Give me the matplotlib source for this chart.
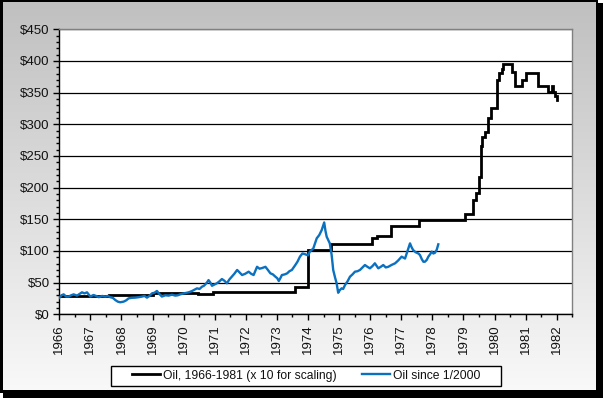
import matplotlib
matplotlib.use("Agg")
import matplotlib.pyplot as plt
import numpy as np
from matplotlib.patches import Rectangle
from matplotlib.ticker import MultipleLocator, FuncFormatter

plt.rcParams['font.family'] = ['Liberation Sans', 'DejaVu Sans']

# ---- data ----
black_years = [1966.0, 1967.6, 1969.0, 1970.47, 1970.95, 1973.58, 1973.99, 1974.74,
               1976.07, 1976.23, 1976.66, 1977.58, 1979.05, 1979.32, 1979.40, 1979.50,
               1979.56, 1979.61, 1979.69, 1979.80, 1979.89, 1980.07, 1980.15, 1980.23,
               1980.28, 1980.55, 1980.66, 1980.87, 1981.01, 1981.41, 1981.73, 1981.84,
               1981.89, 1981.94, 1982.02]
black_values = [29.4, 31.0, 33.6, 32.0, 35.7, 43.6, 101.0, 111.0,
                121.0, 123.6, 139.0, 149.0, 158.4, 180.5, 192.0, 217.0,
                265.0, 280.0, 288.0, 309.5, 325.0, 370.0, 380.5, 388.0,
                395.0, 383.0, 361.0, 370.0, 381.5, 361.0, 350.5, 361.0,
                351.0, 345.0, 339.0]

blue_years = [1966.00, 1966.07, 1966.14, 1966.22, 1966.30, 1966.38, 1966.46, 1966.57,
              1966.65, 1966.73, 1966.81, 1966.89, 1966.95, 1967.00, 1967.10, 1967.18,
              1967.27, 1967.38, 1967.48, 1967.56, 1967.64, 1967.72, 1967.80, 1967.88,
              1967.96, 1968.07, 1968.15, 1968.23, 1968.33, 1968.44, 1968.55, 1968.66,
              1968.74, 1968.82, 1968.90, 1968.98, 1969.06, 1969.14, 1969.22, 1969.30,
              1969.41, 1969.52, 1969.62, 1969.73, 1969.81, 1969.89, 1970.00, 1970.10,
              1970.18, 1970.27, 1970.35, 1970.43, 1970.51, 1970.59, 1970.65, 1970.70,
              1970.76, 1970.80, 1970.86, 1970.91, 1970.99, 1971.07, 1971.15, 1971.23,
              1971.31, 1971.39, 1971.47, 1971.55, 1971.63, 1971.72, 1971.80, 1971.88,
              1971.98, 1972.09, 1972.17, 1972.25, 1972.30, 1972.36, 1972.44, 1972.52,
              1972.58, 1972.63, 1972.71, 1972.79, 1972.87, 1972.95, 1973.01, 1973.06,
              1973.11, 1973.16, 1973.25, 1973.33, 1973.40, 1973.48, 1973.58, 1973.66,
              1973.74, 1973.82, 1973.90, 1974.00, 1974.06, 1974.17, 1974.28, 1974.36,
              1974.44, 1974.52, 1974.56, 1974.60, 1974.70, 1974.76, 1974.81, 1974.87,
              1974.92, 1974.97, 1975.02, 1975.08, 1975.13, 1975.19, 1975.27, 1975.35,
              1975.43, 1975.51, 1975.59, 1975.67, 1975.75, 1975.83, 1975.91, 1975.99,
              1976.07, 1976.15, 1976.26, 1976.34, 1976.42, 1976.50, 1976.58, 1976.69,
              1976.80, 1976.90, 1977.01, 1977.12, 1977.20, 1977.28, 1977.33, 1977.38,
              1977.46, 1977.55, 1977.60, 1977.66, 1977.71, 1977.76, 1977.82, 1977.87,
              1977.93, 1977.98, 1978.03, 1978.08, 1978.14, 1978.19]
blue_values = [26, 30, 31.5, 28, 28, 30, 31.5, 29.5,
               32, 34.7, 33, 34.7, 31, 28, 30.5, 29,
               27, 29, 28, 29, 27, 26, 22.6, 20,
               19, 20, 22, 25.2, 26, 26.3, 27, 28,
               29, 26.3, 29, 33, 34, 36.8, 32, 28,
               30, 29.5, 31, 29.5, 30, 31.5, 33, 34,
               35, 36.8, 39, 41, 40, 43.6, 45, 47.4,
               51, 54, 50, 45, 47, 49, 52, 55.7,
               53, 49, 55, 59.4, 64, 70, 66, 62,
               64, 67.3, 64, 62, 68, 75, 72, 73,
               74, 75, 70, 64.7, 63, 59.4, 57, 52.6,
               57, 62, 63, 64.7, 68, 70, 77, 83,
               91, 96, 95, 93, 99, 104, 120, 125,
               133, 145, 132, 122.5, 112, 93.6, 70, 58,
               49, 34, 38, 41, 40, 46.3, 52, 59.4,
               63, 67.3, 68, 70, 74, 77.8, 75, 72.6,
               76, 80.5, 72.6, 75, 77.8, 74, 75, 78,
               80.5, 85, 91, 88, 100, 112, 106, 101.5,
               98, 96, 93.6, 87, 83, 83, 86, 91,
               95, 99, 96, 97, 102, 110.5]

year_ticks = list(range(1966, 1983))
black_label = "Oil, 1966-1981 (x 10 for scaling)"
blue_label = "Oil since 1/2000"

W, H = 603, 398
fig = plt.figure(figsize=(W / 100, H / 100), dpi=100, facecolor='white')

# ---- background panel ----
bg = fig.add_axes([0, 0, 1, 1], zorder=-10)
bg.axis('off')
bg.add_patch(Rectangle((3, 3), 600, 395, facecolor='black', edgecolor='none', zorder=1))
bg.add_patch(Rectangle((0, 0), 598, 393, facecolor='black', edgecolor='none', zorder=1))
grad = np.linspace(0.753, 0.975, 256).reshape(-1, 1)
bg.imshow(np.dstack([grad, grad, grad]), extent=(3, 595.5, 390.5, 3), aspect='auto',
          interpolation='bilinear', zorder=2)
bg.add_patch(Rectangle((110.7, 365.7), 390.6, 20, facecolor='white', edgecolor='black',
                       linewidth=1.0, zorder=3))
bg.set_xlim(0, W)
bg.set_ylim(H, 0)

# ---- main axes ----
left = 59.3 / W
bottom = 1 - 314.3 / H
ax = fig.add_axes([left, bottom, 513 / W, 285 / H])
ax.set_facecolor('white')

ax.plot(black_years, black_values, color='black', lw=2.0, drawstyle='steps-post',
        label=black_label, zorder=3, solid_joinstyle='miter')
ax.plot(blue_years, blue_values, color='#0a70c0', lw=1.7, label=blue_label, zorder=4)

ax.set_xlim(1966, 1982.5)
ax.set_ylim(0, 450)

ax.yaxis.set_major_locator(MultipleLocator(50))
ax.yaxis.set_minor_locator(MultipleLocator(10))
ax.yaxis.set_major_formatter(FuncFormatter(lambda v, p: f"${int(v)}"))
ax.set_xticks(year_ticks)
ax.set_xticklabels([str(y) for y in year_ticks], rotation=90)
ax.xaxis.set_minor_locator(MultipleLocator(0.5))

ax.grid(axis='y', which='major', color='black', lw=0.9)
ax.set_axisbelow(True)

for s in ['top', 'right']:
    ax.spines[s].set_color('#808080')
    ax.spines[s].set_linewidth(1.0)
for s in ['left', 'bottom']:
    ax.spines[s].set_color('black')
    ax.spines[s].set_linewidth(1.0)

ax.tick_params(axis='both', which='major', direction='out', length=4, width=1,
               color='black', labelsize=9.5, labelcolor='#111111')
ax.tick_params(axis='both', which='minor', direction='out', length=2.5, width=1,
               color='black')
ax.tick_params(axis='y', which='major', pad=3)
ax.tick_params(axis='x', which='major', pad=3)

leg = fig.legend(loc='center', bbox_to_anchor=(306 / W, 1 - 375.7 / H), ncol=2,
                 frameon=False, fontsize=8.7, handlelength=2.3, handletextpad=0.25,
                 columnspacing=2.1, borderpad=0.2)
for t in leg.get_texts():
    t.set_color('#111111')

fig.savefig('out.png', dpi=100, facecolor=fig.get_facecolor())
